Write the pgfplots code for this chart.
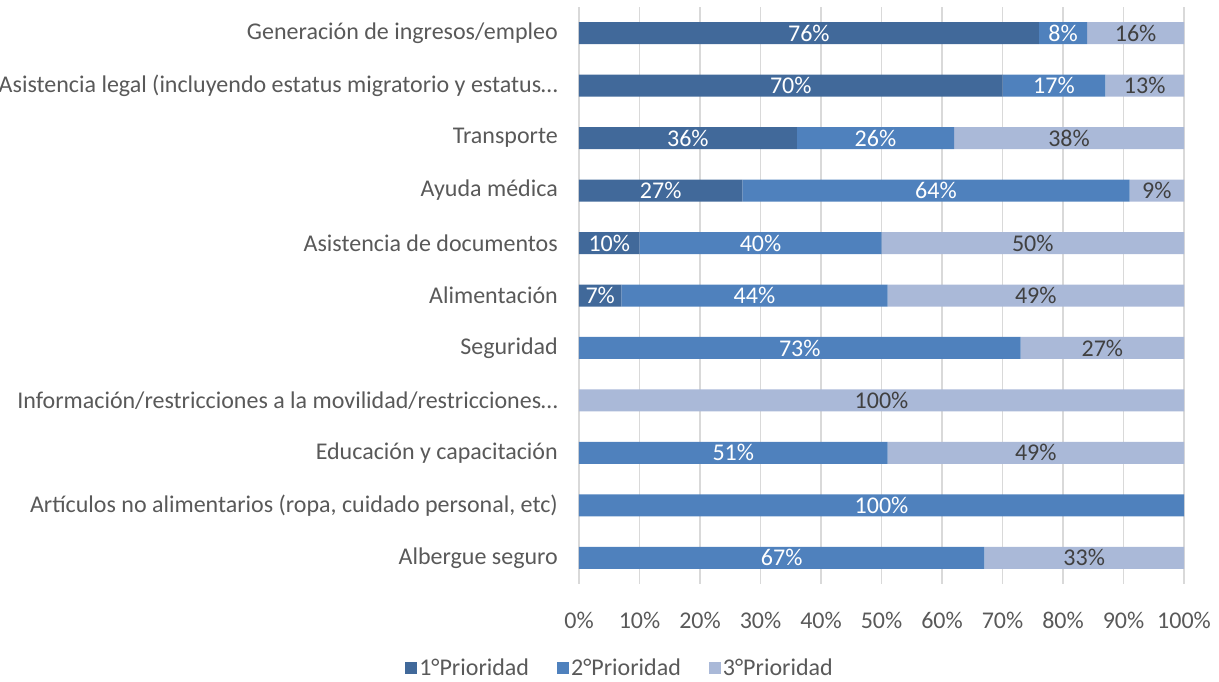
\documentclass[border=0pt]{standalone}
\usepackage{pgfplots}
\pgfplotsset{compat=1.18}
\usepackage{pgfplotstable}
\usepackage{fontspec}
\setmainfont{Carlito}
\definecolor{c1}{HTML}{41699A}
\definecolor{c2}{HTML}{4F81BD}
\definecolor{c3}{HTML}{AAB9D8}
\definecolor{txt}{HTML}{595959}
\definecolor{dtxt}{HTML}{404040}
\definecolor{grd}{HTML}{D9D9D9}
\pgfplotstableread{
idx p1 p2 p3
0 76 8 16
1 70 17 13
2 36 26 38
3 27 64 9
4 10 40 50
5 7 44 49
6 0 73 27
7 0 0 100
8 0 51 49
9 0 100 0
10 0 67 33
}\data
\begin{document}
\begin{tikzpicture}[font=\fontsize{24}{29}\selectfont]
\path[use as bounding box] (0,0) rectangle (1219pt,681pt);
\begin{axis}[
  at={(579pt,97pt)}, anchor=south west,
  scale only axis, width=605pt, height=577pt,
  xbar stacked, bar width=22pt,
  xmin=0, xmax=100, ymin=-0.5, ymax=10.5,
  y dir=reverse,
  axis line style={draw=none}, tick style={draw=none},
  major tick length=0pt,
  xmajorgrids, grid style={grd, line width=1.5pt},
  xtick={0,10,...,100},
  xticklabels={0\%,10\%,20\%,30\%,40\%,50\%,60\%,70\%,80\%,90\%,100\%},
  xticklabel style={text=txt, anchor=base, yshift=-44pt},
  ytick={0,...,10},
  yticklabels={Generación de ingresos/empleo,
    Asistencia legal (incluyendo estatus migratorio y estatus…,
    Transporte, Ayuda médica, Asistencia de documentos, Alimentación,
    Seguridad,
    Información/restricciones a la movilidad/restricciones…,
    Educación y capacitación,
    {Artículos no alimentarios (ropa, cuidado personal, etc)},
    Albergue seguro},
  yticklabel style={text=txt, inner sep=0pt, xshift=-21pt},
  legend columns=3,
  legend style={at={(0.0678,-0.1456)}, anchor=center, draw=none, fill=none,
    text=txt, /tikz/every even column/.append style={column sep=26pt},
    nodes={inner sep=2pt}},
  legend image code/.code={\fill[#1] (0pt,-6pt) rectangle (12pt,6pt);},
  nodes near coords={\ifdim\val pt>0.5pt \pgfmathprintnumber[fixed,precision=0,assume math mode=true]{\val}\%\fi},
  every node near coord/.append style={anchor=center},
]
\addplot[fill=c1, draw=none, visualization depends on={\thisrow{p1} \as \val},
  every node near coord/.append style={text=white}] table[x=p1, y=idx]{\data};
\addlegendentry{1°Prioridad}
\addplot[fill=c2, draw=none, visualization depends on={\thisrow{p2} \as \val},
  every node near coord/.append style={text=white}] table[x=p2, y=idx]{\data};
\addlegendentry{2°Prioridad}
\addplot[fill=c3, draw=none, visualization depends on={\thisrow{p3} \as \val},
  every node near coord/.append style={text=dtxt}] table[x=p3, y=idx]{\data};
\addlegendentry{3°Prioridad}
\end{axis}
\end{tikzpicture}
\end{document}
